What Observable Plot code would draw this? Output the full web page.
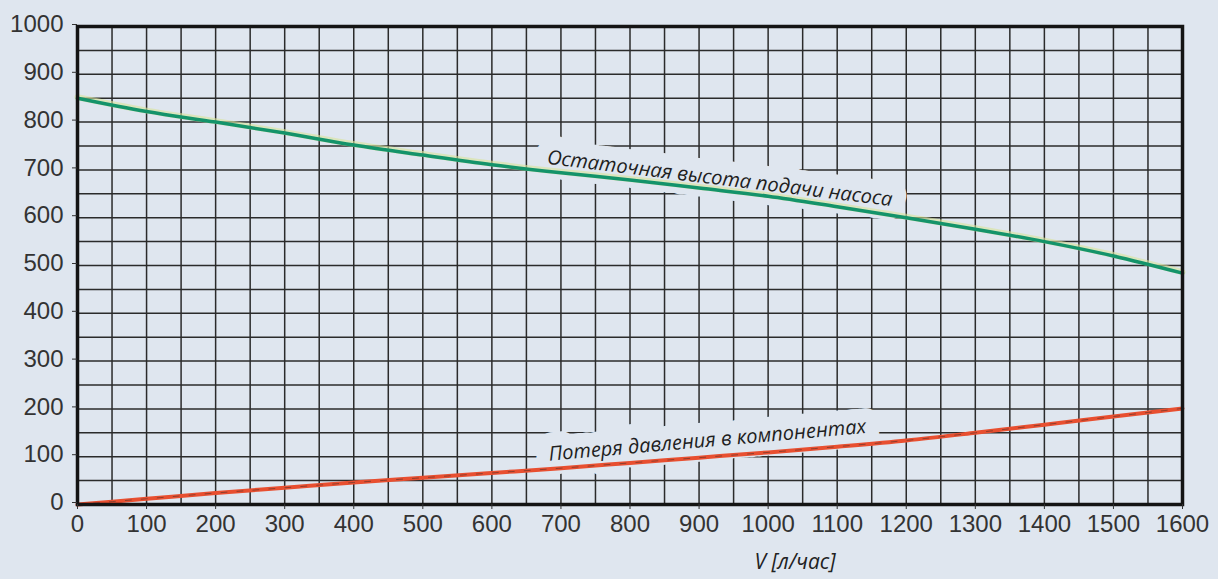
<!DOCTYPE html>
<html>
<head>
<meta charset="utf-8">
<script src="https://cdn.jsdelivr.net/npm/d3@7"></script>
<script src="https://cdn.jsdelivr.net/npm/@observablehq/plot@0.6"></script>
<style>
  html, body { margin: 0; padding: 0; background: #dfe6ef; }
  #chart svg { display: block; }
</style>
</head>
<body>
<div id="chart"></div>
<script>
// Flow rate V [л/час]
const flow = [0, 100, 200, 300, 400, 500, 600, 700, 800, 900, 1000, 1100, 1200, 1300, 1400, 1500, 1600];
// Остаточная высота подачи насоса (residual pump head)
const residualHead = [850, 822, 800, 777, 752, 731, 711, 694, 679, 662, 645, 623, 600, 576, 550, 520, 484];
// Потеря давления в компонентах (pressure loss in components)
const pressureLoss = [0, 12, 24, 35, 46, 56, 66, 76, 87, 98, 109, 121, 134, 150, 167, 184, 201];

const xTicks = [0, 100, 200, 300, 400, 500, 600, 700, 800, 900, 1000, 1100, 1200, 1300, 1400, 1500, 1600];
const yTicks = [0, 100, 200, 300, 400, 500, 600, 700, 800, 900, 1000];
const xGrid = d3.range(0, 1601, 50);
const yGrid = d3.range(0, 1001, 50);

const curveLabels = ["Остаточная высота подачи насоса", "Потеря давления в компонентах"];
const labelX = [930, 912];
const labelY = [682, 134];
const labelAngle = [7, -5];
const xTitle = "V [л/час]";

const headData = flow.map((v, i) => ({v, h: residualHead[i]}));
const lossData = flow.map((v, i) => ({v, h: pressureLoss[i]}));
const labelData = curveLabels.map((t, i) => ({t, x: labelX[i], y: labelY[i], r: labelAngle[i]}));

const bg = "#dfe6ef";
const labelFont = "'Open Sans', 'DejaVu Sans', sans-serif";
const tickFont = "'Liberation Sans', Arial, sans-serif";

const chart = Plot.plot({
  width: 1218,
  height: 579,
  marginLeft: 77,
  marginRight: 36,
  marginTop: 26,
  marginBottom: 75,
  style: {background: bg, fontFamily: tickFont, fontSize: "24px", color: "#333"},
  x: {domain: [0, 1600]},
  y: {domain: [0, 1000]},
  marks: [
    Plot.ruleX(xGrid, {stroke: "#2b2b2b", strokeWidth: 1.5}),
    Plot.ruleY(yGrid, {stroke: "#2b2b2b", strokeWidth: 1.5}),
    // label backgrounds (box-like halo interrupting the grid)
    ...labelData.map(d => Plot.text([d], {
      x: "x", y: "y", text: "t", rotate: d.r,
      fontSize: 20, fontStyle: "italic", fontFamily: labelFont,
      fill: bg, stroke: bg, strokeWidth: 28, strokeLinejoin: "round"
    })),
    Plot.line(headData, {x: "v", y: "h", stroke: "#d9e49a", strokeWidth: 6, strokeOpacity: 0.6, curve: "monotone-x", dy: -1}),
    Plot.line(headData, {x: "v", y: "h", stroke: "#14936a", strokeWidth: 3.5, curve: "monotone-x"}),
    Plot.line(lossData, {x: "v", y: "h", stroke: "#e84f30", strokeWidth: 4, curve: "monotone-x"}),
    Plot.line(lossData, {x: "v", y: "h", stroke: "#3a2a26", strokeWidth: 1, strokeOpacity: 0.5, strokeDasharray: "6,10", curve: "monotone-x"}),
    ...labelData.map(d => Plot.text([d], {
      x: "x", y: "y", text: "t", rotate: d.r,
      fontSize: 20, fontStyle: "italic", fontFamily: labelFont,
      fill: "#1e1e1e"
    })),
    Plot.frame({stroke: "#141414", strokeWidth: 3.5}),
    Plot.axisY(yTicks, {tickSize: 5, tickPadding: 9, fontSize: 24, fontFamily: tickFont, tickFormat: d => String(d), label: null, stroke: "#333", fill: "#333", dy: -2}),
    Plot.axisX(xTicks, {tickSize: 5, tickPadding: 5, fontSize: 24, fontFamily: tickFont, tickFormat: d => String(d), label: null, stroke: "#333", fill: "#333"}),
    Plot.text([xTitle], {frameAnchor: "bottom", dx: 165, dy: 64, fontSize: 21, fontStyle: "italic", fontFamily: labelFont, fill: "#222"})
  ]
});

document.getElementById("chart").appendChild(chart);
</script>
</body>
</html>
